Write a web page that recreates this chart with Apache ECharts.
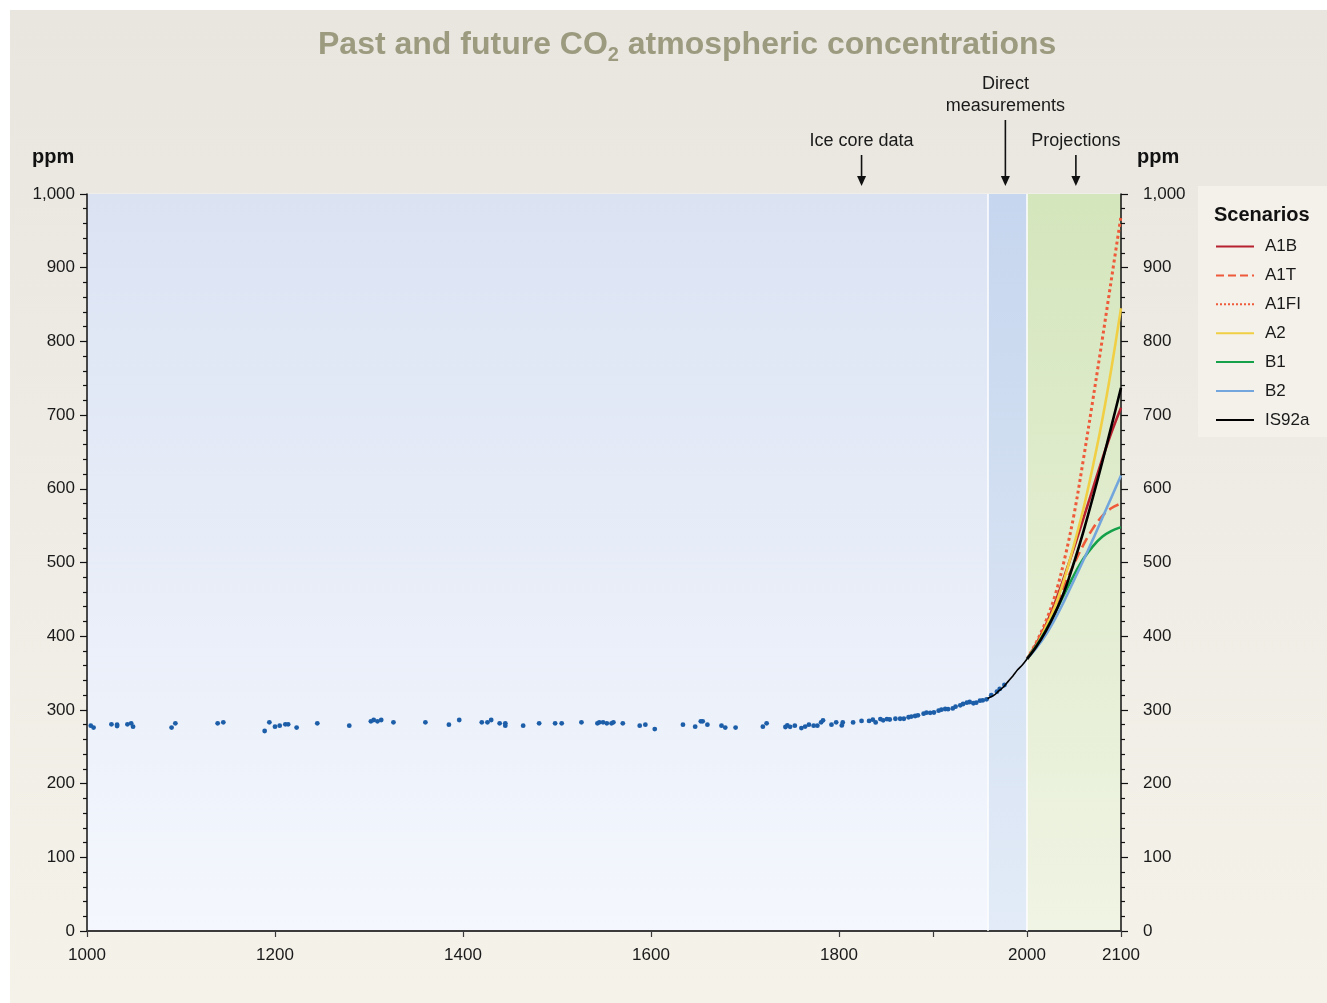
<!DOCTYPE html>
<html>
<head>
<meta charset="utf-8">
<script src="https://cdn.jsdelivr.net/npm/echarts@6/dist/echarts.min.js"></script>
<style>
html,body{margin:0;padding:0;background:#ffffff;}
#chart{width:1327px;height:1003px;}
</style>
</head>
<body>
<div id="chart"></div>
<script>
// ---------- DATA ----------
const iceYears = [1004,1007,1026,1032,1032,1043,1047,1049,1090,1094,1139,1145,1189,1194,1200,1205,1211,1214,1223,1245,1279,1302,1305,1309,1313,1326,1360,
  1385,1396,1420,1426,1430,1439,1445,1445,1464,1481,1498,1505,1526,1543,1545,1549,1553,1558,1560,1570,1588,1594,1604,1634,1647,1653,1655,1660,1675,1679,1690,1719,1723,
  1743,1745,1748,1753,1760,1764,1768,1773,1777,1781,1783,1792,1797,1803,1804,1815,1824,1832,1836,1839,1844,1847,1851,1854,1860,1865,1869,1874,1877,1881,1884,1890,1893,1897,1901,1906,1909,1913,1916,1921,1924,1929,1932,1936,1939,1943,1946,1950,1953,1957,1962,1968,1971,1976];
const icePpm = [278.6,276,280.4,280,278,280.4,281.8,277.2,276,281.8,281.8,283.1,271.4,283.1,277.2,278.6,280.4,280.4,276,281.8,278.6,284.5,286.3,284.5,286.3,283.1,283.1,
  280,286.3,283.1,283.1,286.3,281.8,281.8,278.6,278.6,281.8,281.8,281.8,283.1,281.8,283.1,283.1,281.8,281.8,283.1,281.8,278.6,280,274,280,277.2,284.5,284.5,280,278.6,276,276,277.2,281.8,
  276.8,279,277,278.6,275.4,277.4,280,278.6,278.6,283.1,285.8,280,283.1,279,283,283,285,285,286.7,283,287.6,285.8,287.6,287,288,288,288,290,291,291.7,292.7,294.9,296.2,296,296.5,298.9,300.3,301.2,301,302,304.4,306.2,308,309.8,310.7,309,309.8,312.5,313,314.4,320,324.7,328.4,333.8];

const directYears = [1958,1960,1965,1970,1975,1980,1985,1990,1995,2000];
const directPpm   = [315.5,316.9,320.0,325.7,331.1,338.7,346.1,354.4,360.8,369];

const scenarioYears = [2000,2010,2020,2030,2040,2050,2060,2070,2080,2090,2100];
const A1B   = [369,390,415,446,482,520,560,600,640,677,710];
const A1T   = [369,389,413,440,470,498,524,546,563,574,580];
const A1FI  = [369,392,420,456,505,565,640,720,802,886,970];
const A2    = [369,387,412,441,479,524,573,630,693,765,845];
const B1    = [369,387,408,432,458,483,505,522,535,543,548];
const B2    = [369,384,402,424,449,476,503,531,560,589,618];
const IS92a = [369,386,407,432,462,500,542,588,636,686,737];

const scenarioNames = ['A1B','A1T','A1FI','A2','B1','B2','IS92a'];
const periodBounds = [1000, 1958, 2000, 2100];
const xTickValues = [1000,1200,1400,1600,1800,1900,2000,2100];
const xTickLabels = [1000,1200,1400,1600,1800,2000,2100];
const annotations = [
  {text:'Ice core data', year:1824, top:141},
  {text:'Direct\nmeasurements', year:1977, top:84},
  {text:'Projections', year:2052, top:141}
];

// ---------- BUILD ----------
const zip = (xs, ys) => xs.map((x, i) => [x, ys[i]]);
const scenarioValues = {A1B, A1T, A1FI, A2, B1, B2, IS92a};
const scenarioStyle = {
  A1B:  {color:'#b8212f', type:'solid',  width:2.6},
  A1T:  {color:'#ee5a3a', type:'dashed', width:2.6},
  A1FI: {color:'#ee5a3a', type:'dotted', width:3},
  A2:   {color:'#f1cf45', type:'solid',  width:2.6},
  B1:   {color:'#15a04a', type:'solid',  width:2.6},
  B2:   {color:'#72a6dc', type:'solid',  width:2.6},
  IS92a:{color:'#000000', type:'solid',  width:2.6}
};
const vgrad = (top, bottom) => ({type:'linear', x:0, y:0, x2:0, y2:1,
  colorStops:[{offset:0, color:top},{offset:1, color:bottom}]});
const fmtThousands = v => String(v).replace(/\B(?=(\d{3})+(?!\d))/g, ',');
const FONT = '"Liberation Sans", Arial, Helvetica, sans-serif';

const chart = echarts.init(document.getElementById('chart'), null, {renderer:'canvas'});

const scenarioSeries = scenarioNames.map((n) => ({
  name: n, type: 'line', symbol: 'none', smooth: 0.35,
  data: zip(scenarioYears, scenarioValues[n]),
  lineStyle: {color: scenarioStyle[n].color, type: scenarioStyle[n].type, width: scenarioStyle[n].width},
  itemStyle: {color: scenarioStyle[n].color},
  z: n === 'IS92a' ? 5 : 4,
  emphasis: {disabled: true}
}));

const option = {
  animation: false,
  textStyle: {fontFamily: FONT},
  title: {
    text: '{a|Past and future CO}{s|2}{a| atmospheric concentrations}',
    left: 313, top: 20,
    textStyle: {
      rich: {
        a: {fontFamily: FONT, fontSize: 32, fontWeight: 'bold', color: '#9c9b80', lineHeight: 40, verticalAlign: 'middle'},
        s: {fontFamily: FONT, fontSize: 20, fontWeight: 'bold', color: '#9c9b80', lineHeight: 22, verticalAlign: 'bottom'}
      }
    }
  },
  grid: {left: 87, right: 206, top: 194, bottom: 72, containLabel: false},
  legend: {
    data: scenarioNames,
    orient: 'vertical', left: 1215, top: 238, padding: 0,
    itemWidth: 38, itemHeight: 14, itemGap: 11.9,
    itemStyle: {opacity: 0},
    textStyle: {fontFamily: FONT, fontSize: 17, color: '#1a1a1a', padding: [0,0,0,6]},
    selectedMode: false
  },
  xAxis: {
    type: 'value', min: periodBounds[0], max: periodBounds[3], interval: 100,
    axisLine: {show: true, onZero: false, lineStyle: {color: '#3b3b3b', width: 2}},
    axisTick: {show: true, length: 6, customValues: xTickValues, lineStyle: {color: '#3b3b3b', width: 1.2}},
    axisLabel: {
      margin: 16, fontSize: 17, color: '#1a1a1a', fontFamily: FONT,
      customValues: xTickLabels,
      formatter: v => xTickLabels.includes(v) ? String(v) : ''
    },
    splitLine: {show: false}
  },
  yAxis: [
    {
      type: 'value', min: 0, max: 1000, interval: 100, position: 'left',
      axisLine: {show: true, lineStyle: {color: '#111', width: 1.5}},
      axisTick: {show: true, length: 7, lineStyle: {color: '#111', width: 1.2}},
      minorTick: {show: true, splitNumber: 5, length: 4, lineStyle: {color: '#111', width: 1.2}},
      axisLabel: {margin: 12, fontSize: 17, color: '#1a1a1a', fontFamily: FONT, formatter: fmtThousands},
      splitLine: {show: true, lineStyle: {color: '#ffffff', width: 1.4}}
    },
    {
      type: 'value', min: 0, max: 1000, interval: 100, position: 'right',
      axisLine: {show: true, lineStyle: {color: '#111', width: 1.5}},
      axisTick: {show: true, length: 7, lineStyle: {color: '#111', width: 1.2}},
      minorTick: {show: true, splitNumber: 5, length: 4, lineStyle: {color: '#111', width: 1.2}},
      axisLabel: {margin: 22, fontSize: 17, color: '#1a1a1a', fontFamily: FONT, align: 'left', formatter: fmtThousands},
      splitLine: {show: false}
    }
  ],
  series: [
    {
      name: 'Ice core', type: 'scatter', symbolSize: 4.8, z: 3,
      data: zip(iceYears, icePpm),
      itemStyle: {color: '#1d5ea9', opacity: 1},
      emphasis: {disabled: true},
      markArea: {
        silent: true, z: 0,
        data: [
          [{xAxis: periodBounds[0], itemStyle: {color: vgrad('#dbe3f3', '#f4f7fd')}}, {xAxis: periodBounds[1]}],
          [{xAxis: periodBounds[1], itemStyle: {color: vgrad('#c6d6ee', '#e2ebf7')}}, {xAxis: periodBounds[2]}],
          [{xAxis: periodBounds[2], itemStyle: {color: vgrad('#d4e6bc', '#f0f4e4')}}, {xAxis: periodBounds[3]}]
        ]
      },
      markLine: {
        silent: true, symbol: 'none', label: {show: false}, z: 1,
        lineStyle: {color: '#ffffff', width: 1.5, type: 'solid'},
        data: [{xAxis: periodBounds[1]}, {xAxis: periodBounds[2]}]
      }
    },
    {
      name: 'Direct', type: 'line', symbol: 'none', smooth: 0.3, z: 4,
      data: zip(directYears, directPpm),
      lineStyle: {color: '#000', width: 1.6},
      emphasis: {disabled: true}
    }
  ].concat(scenarioSeries)
};

chart.setOption(option);

// ---------- annotations & decorations ----------
const g = [];
g.push({type: 'rect', z: -100, silent: true,
  shape: {x: 10, y: 10, width: 1317, height: 993},
  style: {fill: vgrad('#e8e6df', '#f5f2ea')}});
g.push({type: 'rect', z: -90, silent: true,
  shape: {x: 1198, y: 186, width: 129, height: 251},
  style: {fill: '#f3f1ea'}});
g.push({type: 'text', left: 1214, top: 205, silent: true,
  style: {text: 'Scenarios', font: 'bold 20px ' + FONT, fill: '#111'}});
g.push({type: 'text', left: 32, top: 147, silent: true,
  style: {text: 'ppm', font: 'bold 20px ' + FONT, fill: '#111'}});
g.push({type: 'text', left: 1137, top: 147, silent: true,
  style: {text: 'ppm', font: 'bold 20px ' + FONT, fill: '#111'}});

annotations.forEach(a => {
  const px = chart.convertToPixel({xAxisIndex: 0}, a.year);
  const lines = a.text.split('\n');
  lines.forEach((t, i) => {
    g.push({type: 'text', silent: true, x: px, y: a.top + i * 22,
      style: {text: t, font: '18px ' + FONT, fill: '#1a1a1a', textAlign: 'center', textVerticalAlign: 'middle'}});
  });
  const y0 = a.top + (lines.length - 1) * 22 + 14;
  g.push({type: 'line', silent: true, shape: {x1: px, y1: y0, x2: px, y2: 180},
    style: {stroke: '#111', lineWidth: 1.6}});
  g.push({type: 'polygon', silent: true, shape: {points: [[px - 4.5, 176], [px + 4.5, 176], [px, 186]]},
    style: {fill: '#111'}});
});
chart.setOption({graphic: g});
</script>
</body>
</html>
